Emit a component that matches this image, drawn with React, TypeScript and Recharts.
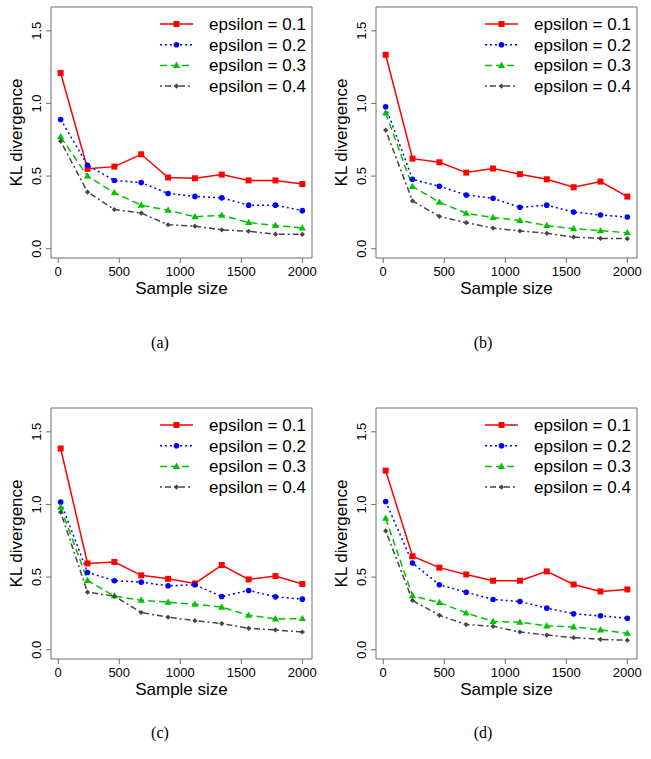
import React from 'react';
import { LineChart, Line, XAxis, YAxis, ReferenceArea, Legend } from 'recharts';

// ---------- data ----------
const sampleSizes = [20, 240, 460, 680, 900, 1120, 1340, 1560, 1780, 2000];
const xTicks = [0, 500, 1000, 1500, 2000];
const yTicks = [0, 0.5, 1.0, 1.5];
const seriesNames = ['epsilon = 0.1', 'epsilon = 0.2', 'epsilon = 0.3', 'epsilon = 0.4'];
const panelCaptions = ['(a)', '(b)', '(c)', '(d)'];
const xLabel = 'Sample size';
const yLabel = 'KL divergence';

const panelA_eps01 = [1.21, 0.55, 0.565, 0.65, 0.49, 0.485, 0.51, 0.47, 0.47, 0.445];
const panelA_eps02 = [0.89, 0.575, 0.47, 0.455, 0.38, 0.36, 0.35, 0.3, 0.3, 0.262];
const panelA_eps03 = [0.77, 0.5, 0.385, 0.3, 0.265, 0.22, 0.23, 0.18, 0.16, 0.143];
const panelA_eps04 = [0.74, 0.39, 0.27, 0.245, 0.165, 0.155, 0.13, 0.12, 0.1, 0.099];

const panelB_eps01 = [1.335, 0.62, 0.595, 0.524, 0.552, 0.513, 0.478, 0.423, 0.462, 0.359];
const panelB_eps02 = [0.977, 0.478, 0.43, 0.37, 0.347, 0.285, 0.3, 0.253, 0.232, 0.218];
const panelB_eps03 = [0.935, 0.428, 0.32, 0.244, 0.214, 0.195, 0.159, 0.138, 0.124, 0.11];
const panelB_eps04 = [0.816, 0.329, 0.223, 0.179, 0.142, 0.122, 0.106, 0.08, 0.071, 0.069];

const panelC_eps01 = [1.385, 0.594, 0.604, 0.512, 0.488, 0.456, 0.583, 0.484, 0.507, 0.452];
const panelC_eps02 = [1.016, 0.532, 0.475, 0.465, 0.44, 0.447, 0.366, 0.408, 0.364, 0.348];
const panelC_eps03 = [0.98, 0.477, 0.369, 0.341, 0.327, 0.313, 0.293, 0.237, 0.212, 0.214];
const panelC_eps04 = [0.947, 0.396, 0.369, 0.256, 0.224, 0.2, 0.18, 0.147, 0.136, 0.122];

const panelD_eps01 = [1.233, 0.643, 0.565, 0.518, 0.475, 0.475, 0.539, 0.449, 0.401, 0.415];
const panelD_eps02 = [1.02, 0.597, 0.447, 0.396, 0.346, 0.332, 0.286, 0.247, 0.233, 0.217];
const panelD_eps03 = [0.905, 0.371, 0.325, 0.253, 0.194, 0.189, 0.164, 0.157, 0.136, 0.113];
const panelD_eps04 = [0.818, 0.339, 0.237, 0.173, 0.161, 0.122, 0.101, 0.083, 0.071, 0.065];

const panels = [
  [panelA_eps01, panelA_eps02, panelA_eps03, panelA_eps04],
  [panelB_eps01, panelB_eps02, panelB_eps03, panelB_eps04],
  [panelC_eps01, panelC_eps02, panelC_eps03, panelC_eps04],
  [panelD_eps01, panelD_eps02, panelD_eps03, panelD_eps04],
];

// ---------- styles ----------
const X_DOMAIN: [number, number] = [-59.2, 2079.2];
const Y_DOMAIN: [number, number] = [-0.064, 1.664];
const AXIS = '#6e6e6e';
const SANS = '"Liberation Sans", Arial, Helvetica, sans-serif';

const styles = [
  { color: '#ff0000', dash: undefined, shape: 'square' },
  { color: '#0000ff', dash: '2 3', shape: 'circle' },
  { color: '#00c400', dash: '7 4', shape: 'triangle' },
  { color: '#454545', dash: '2 3 6 3', shape: 'diamond' },
];

const Marker = ({ cx, cy, shape, color }: any) => {
  if (cx == null || cy == null) return null;
  if (shape === 'square') return <rect x={cx - 3} y={cy - 3} width={6} height={6} fill={color} />;
  if (shape === 'circle') return <circle cx={cx} cy={cy} r={2.8} fill={color} />;
  if (shape === 'triangle')
    return <polygon points={`${cx},${cy - 3.8} ${cx - 3.6},${cy + 2.5} ${cx + 3.6},${cy + 2.5}`} fill={color} />;
  return <polygon points={`${cx},${cy - 2.6} ${cx + 2.6},${cy} ${cx},${cy + 2.6} ${cx - 2.6},${cy}`} fill={color} />;
};

const YTick = (props: any) => {
  const { y, payload } = props;
  return (
    <text
      transform={`translate(41, ${y}) rotate(-90)`}
      textAnchor="middle"
      fontSize={13}
      fill="#000"
      fontFamily={SANS}
    >
      {Number(payload.value).toFixed(1)}
    </text>
  );
};

const LegendBox = () => (
  <svg width={170} height={100} style={{ display: 'block', overflow: 'visible' }}>
    {styles.map((s, i) => {
      const cy = 24 + i * 20.7;
      return (
        <g key={i}>
          <line x1={10} x2={43} y1={cy} y2={cy} stroke={s.color} strokeWidth={1.5} strokeDasharray={s.dash} />
          <Marker cx={26.5} cy={cy} shape={s.shape} color={s.color} />
          <text x={59} y={cy + 6} fontSize={17} fill="#000" fontFamily={SANS}>
            {seriesNames[i]}
          </text>
        </g>
      );
    })}
  </svg>
);

const Panel = ({ series, left, top }: any) => {
  const data = sampleSizes.map((x, i) => ({
    x,
    e1: series[0][i],
    e2: series[1][i],
    e3: series[2][i],
    e4: series[3][i],
  }));
  const keys = ['e1', 'e2', 'e3', 'e4'];
  return (
    <div style={{ position: 'absolute', left, top, width: 325, height: 300 }}>
      <LineChart width={325} height={300} data={data} margin={{ top: 7, right: 13, bottom: 0, left: 0 }}>
        <XAxis
          dataKey="x"
          type="number"
          domain={X_DOMAIN}
          ticks={xTicks}
          allowDataOverflow
          interval={0}
          height={42}
          axisLine={false}
          tickLine={{ stroke: AXIS }}
          tickSize={5}
          tickMargin={4}
          tick={{ fontSize: 13, fill: '#000', fontFamily: SANS }}
          label={{
            content: (p: any) => {
              const vb = p.viewBox || { x: 51, y: 258, width: 261, height: 42 };
              return (
                <text x={vb.x + vb.width / 2} y={vb.y + 36} textAnchor="middle" fontSize={17} fill="#000" fontFamily={SANS}>
                  {xLabel}
                </text>
              );
            },
          }}
        />
        <YAxis
          type="number"
          domain={Y_DOMAIN}
          ticks={yTicks}
          allowDataOverflow
          interval={0}
          width={51}
          axisLine={false}
          tickLine={{ stroke: AXIS }}
          tickSize={5}
          tick={(p: any) => <YTick {...p} />}
          label={{
            content: (p: any) => {
              const vb = p.viewBox || { x: 0, y: 7, width: 51, height: 251 };
              const cx = vb.x + 21.5;
              const cy = vb.y + vb.height / 2;
              return (
                <text
                  transform={`translate(${cx}, ${cy}) rotate(-90)`}
                  textAnchor="middle"
                  fontSize={17}
                  fill="#000"
                  fontFamily={SANS}
                >
                  {yLabel}
                </text>
              );
            },
          }}
        />
        <ReferenceArea
          x1={X_DOMAIN[0]}
          x2={X_DOMAIN[1]}
          y1={Y_DOMAIN[0]}
          y2={Y_DOMAIN[1]}
          fill="none"
          fillOpacity={0}
          stroke={AXIS}
          strokeWidth={1}
          ifOverflow="visible"
        />
        {keys.map((k, i) => (
          <Line
            key={k}
            dataKey={k}
            name={seriesNames[i]}
            type="linear"
            stroke={styles[i].color}
            strokeWidth={1.5}
            strokeDasharray={styles[i].dash}
            isAnimationActive={false}
            dot={(p: any) => (
              <Marker key={`${k}-${p.index}`} cx={p.cx} cy={p.cy} shape={styles[i].shape} color={styles[i].color} />
            )}
            activeDot={false}
          />
        ))}
        <Legend
          layout="horizontal"
          verticalAlign="middle"
          align="center"
          content={() => <LegendBox />}
          wrapperStyle={{ left: 150, top: 0, width: 170, height: 100 }}
        />
      </LineChart>
    </div>
  );
};

const positions = [
  { left: 0, top: 0 },
  { left: 325, top: 0 },
  { left: 0, top: 401 },
  { left: 325, top: 401 },
];
const captionPos = [
  { x: 160, y: 348 },
  { x: 483, y: 348 },
  { x: 160, y: 738 },
  { x: 483, y: 738 },
];

export default function App() {
  return (
    <div style={{ position: 'absolute', left: 0, top: 0, width: 651, height: 759, background: '#fff', fontFamily: SANS }}>
      {panels.map((s, i) => (
        <Panel key={i} series={s} left={positions[i].left} top={positions[i].top} />
      ))}
      <svg width={651} height={759} style={{ position: 'absolute', left: 0, top: 0, pointerEvents: 'none' }}>
        {panelCaptions.map((c, i) => (
          <text
            key={c}
            x={captionPos[i].x}
            y={captionPos[i].y}
            textAnchor="middle"
            fontSize={16}
            fill="#000"
            fontFamily='"Liberation Serif", "DejaVu Serif", serif'
          >
            {c}
          </text>
        ))}
      </svg>
    </div>
  );
}
